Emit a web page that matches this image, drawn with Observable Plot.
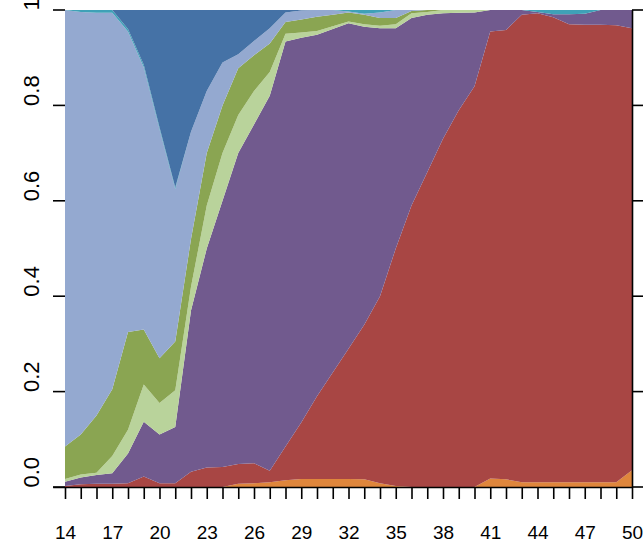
<!DOCTYPE html>
<html>
<head>
<meta charset="utf-8">
<script src="https://cdn.jsdelivr.net/npm/d3@7"></script>
<script src="https://cdn.jsdelivr.net/npm/@observablehq/plot@0.6"></script>
<style>
  html, body { margin: 0; padding: 0; background: #fff; }
  #chart svg { display: block; }
</style>
</head>
<body>
<div id="chart"></div>
<script>
// Ages 14 to 50, one share per layer and age; each column sums to 1.
const ages = d3.range(14, 51);

const seriesNames = ["orange", "red", "purple", "lightGreen", "green", "periwinkle", "teal", "blue"];
const seriesColors = ["#df863c", "#a84644", "#715a8e", "#b9d39b", "#8aa552", "#94a9d0", "#3fa1b7", "#4572a6"];

const orange = [0, 0, 0, 0, 0, 0, 0, 0, 0, 0, 0, 0.007, 0.008, 0.010, 0.014, 0.017, 0.017, 0.017, 0.017, 0.016, 0.008, 0.002, 0, 0, 0, 0, 0, 0.018, 0.016, 0.010, 0.010, 0.010, 0.010, 0.010, 0.010, 0.010, 0.035];
const red = [0.002, 0.006, 0.007, 0.007, 0.008, 0.022, 0.008, 0.008, 0.032, 0.041, 0.042, 0.041, 0.042, 0.024, 0.071, 0.118, 0.173, 0.223, 0.273, 0.324, 0.392, 0.498, 0.590, 0.660, 0.730, 0.790, 0.840, 0.937, 0.942, 0.980, 0.983, 0.975, 0.960, 0.959, 0.959, 0.958, 0.927];
const purple = [0.009, 0.014, 0.018, 0.022, 0.062, 0.115, 0.102, 0.118, 0.338, 0.459, 0.558, 0.652, 0.710, 0.786, 0.849, 0.807, 0.758, 0.720, 0.682, 0.625, 0.562, 0.462, 0.393, 0.330, 0.263, 0.204, 0.155, 0.045, 0.042, 0.010, 0.003, 0.006, 0.021, 0.023, 0.031, 0.032, 0.038];
const lightGreen = [0.006, 0.006, 0.005, 0.036, 0.050, 0.078, 0.066, 0.077, 0.050, 0.090, 0.100, 0.080, 0.070, 0.050, 0.016, 0.011, 0.008, 0.006, 0.004, 0.005, 0.005, 0.008, 0.010, 0.006, 0.007, 0.006, 0.005, 0, 0, 0, 0, 0, 0, 0, 0, 0, 0];
const green = [0.068, 0.084, 0.120, 0.140, 0.205, 0.115, 0.094, 0.102, 0.100, 0.110, 0.100, 0.098, 0.075, 0.060, 0.025, 0.027, 0.030, 0.024, 0.019, 0.020, 0.016, 0.013, 0.005, 0.004, 0, 0, 0, 0, 0, 0, 0, 0, 0, 0, 0, 0, 0];
const periwinkle = [0.915, 0.886, 0.844, 0.789, 0.630, 0.550, 0.480, 0.320, 0.225, 0.130, 0.090, 0.029, 0.030, 0.032, 0.020, 0.019, 0.014, 0.010, 0.002, 0.002, 0.012, 0.017, 0.002, 0, 0, 0, 0, 0, 0, 0, 0, 0, 0, 0, 0, 0, 0];
const teal = [0, 0.004, 0.006, 0.006, 0.005, 0.005, 0.004, 0.003, 0, 0, 0, 0, 0, 0, 0, 0, 0, 0, 0.003, 0.008, 0.005, 0, 0, 0, 0, 0, 0, 0, 0, 0, 0.004, 0.009, 0.009, 0.008, 0, 0, 0];
const blue = [0, 0, 0, 0, 0.040, 0.115, 0.246, 0.372, 0.255, 0.170, 0.110, 0.093, 0.065, 0.038, 0.005, 0.001, 0, 0, 0, 0, 0, 0, 0, 0, 0, 0, 0, 0, 0, 0, 0, 0, 0, 0, 0, 0, 0];

const yTicks = [0, 0.2, 0.4, 0.6, 0.8, 1];
const xLabelTicks = [14, 17, 20, 23, 26, 29, 32, 35, 38, 41, 44, 47, 50];

const seriesValues = [orange, red, purple, lightGreen, green, periwinkle, teal, blue];
const rows = seriesNames.flatMap((name, k) =>
  ages.map((age, i) => ({age, layer: name, share: seriesValues[k][i]}))
);

const font = "'Liberation Sans', Arial, sans-serif";

const chart = Plot.plot({
  width: 643,
  height: 546,
  marginLeft: 65,
  marginRight: 11,
  marginTop: 10,
  marginBottom: 59,
  style: {fontFamily: font, background: "#fff", color: "#000"},
  x: {domain: [14, 50]},
  y: {domain: [0, 1], axis: null},
  color: {domain: seriesNames, range: seriesColors},
  marks: [
    Plot.areaY(rows, {x: "age", y: "share", z: "layer", fill: "layer", order: seriesNames, curve: "linear"}),
    // bottom axis: a tick at every age, a label every third
    Plot.axisX({
      ticks: ages,
      tickSize: 12,
      tickPadding: 26,
      tickFormat: d => xLabelTicks.includes(d) ? String(d) : "",
      fontSize: 19,
      strokeWidth: 1.6,
      label: null
    }),
    Plot.ruleY([0], {x1: 13.25, x2: 50, stroke: "#000", strokeWidth: 1.6}),
    // left axis labels, rotated
    Plot.text(yTicks, {
      y: d => d,
      text: d => d.toFixed(1),
      frameAnchor: "left",
      dx: -34,
      rotate: -90,
      fontSize: 22,
      fill: "#000"
    }),
    // right axis line
    Plot.ruleX([50], {y1: 0, y2: 1, stroke: "#000", strokeWidth: 1.6})
  ]
});

// left and right tick marks drawn as short rules in the margins
const svg = d3.select(chart);
const y = chart.scale("y");
const x = chart.scale("x");
const gTicks = svg.append("g").attr("stroke", "#000").attr("stroke-width", 1.6);
for (const t of yTicks) {
  gTicks.append("line").attr("x1", x.apply(14) - 12).attr("x2", x.apply(14)).attr("y1", y.apply(t)).attr("y2", y.apply(t));
  gTicks.append("line").attr("x1", x.apply(50)).attr("x2", x.apply(50) + 11).attr("y1", y.apply(t)).attr("y2", y.apply(t));
}

document.getElementById("chart").appendChild(chart);
</script>
</body>
</html>
